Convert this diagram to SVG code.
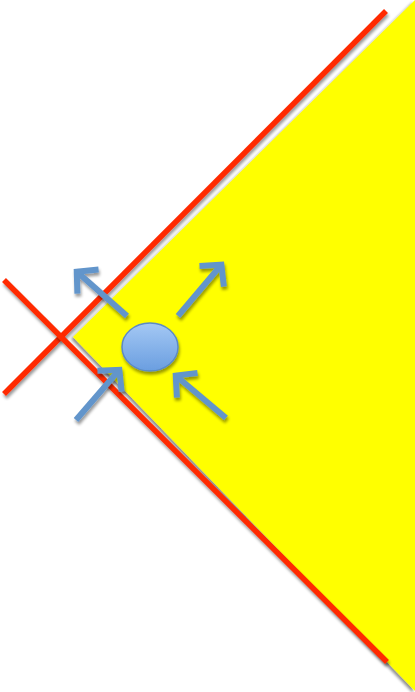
<svg xmlns="http://www.w3.org/2000/svg" width="415" height="692" viewBox="0 0 415 692">
  <style>
    .red { stroke: #ff2a00; stroke-width: 5.5; fill: none; stroke-linecap: butt; filter: url(#shadow); }
    .arrow { stroke: #6295cb; stroke-width: 6; fill: none; stroke-linecap: butt; marker-end: url(#chev); filter: url(#shadow); }
  </style>
  <defs>
    <filter id="shadow" x="-20%" y="-20%" width="140%" height="140%">
      <feGaussianBlur in="SourceAlpha" stdDeviation="1.6"/>
      <feOffset dx="1" dy="3" result="b"/>
      <feComponentTransfer><feFuncA type="linear" slope="0.4"/></feComponentTransfer>
      <feMerge><feMergeNode/><feMergeNode in="SourceGraphic"/></feMerge>
    </filter>
    <filter id="coneShadow" x="-20%" y="-20%" width="140%" height="140%">
      <feGaussianBlur in="SourceAlpha" stdDeviation="1.4"/>
      <feOffset dx="-2.5" dy="1.5"/>
      <feComponentTransfer><feFuncA type="linear" slope="0.45"/></feComponentTransfer>
      <feMerge><feMergeNode/><feMergeNode in="SourceGraphic"/></feMerge>
    </filter>
    <linearGradient id="blueGrad" x1="0" y1="0" x2="0" y2="1">
      <stop offset="0" stop-color="#a4c8f4"/>
      <stop offset="1" stop-color="#6a9ee0"/>
    </linearGradient>
    <marker id="chev" markerUnits="userSpaceOnUse" viewBox="-30 -30 40 60" refX="0" refY="0" markerWidth="40" markerHeight="60" orient="auto" overflow="visible">
      <path d="M-16,-16 L-1,0 L-16,16" fill="none" stroke="#6295cb" stroke-width="6" stroke-linejoin="miter"/>
    </marker>
  </defs>
  <rect width="415" height="692" fill="#ffffff"/>
  <g id="cone">
    <polygon points="415,0 73,337 415,691" fill="#ffff00" filter="url(#coneShadow)"/>
  </g>
  <g id="lightlines">
    <line class="red" x1="4" y1="394" x2="386" y2="11"/>
    <line class="red" x1="4" y1="280" x2="387" y2="662"/>
  </g>
  <g id="connectors">
    <line class="arrow" x1="127" y1="316" x2="76" y2="271"/>
    <line class="arrow" x1="178" y1="316" x2="222" y2="264"/>
    <line class="arrow" x1="76" y1="420" x2="120" y2="369"/>
    <line class="arrow" x1="226" y1="418" x2="175" y2="375"/>
  </g>
  <g id="particle">
    <ellipse cx="150" cy="347" rx="28" ry="24" fill="url(#blueGrad)" stroke="#5b8ac6" stroke-width="1.5" filter="url(#shadow)"/>
  </g>
</svg>
